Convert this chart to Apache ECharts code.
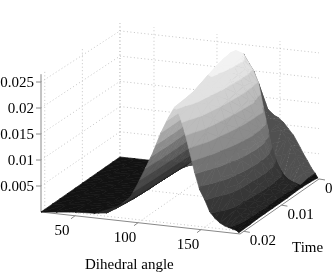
<!DOCTYPE html>
<html><head><meta charset="utf-8">
<style>html,body{margin:0;padding:0;background:#fff}#c{width:336px;height:273px}</style>
<script src="https://cdn.jsdelivr.net/npm/echarts@6/dist/echarts.min.js"></script>
</head><body><div id="c"></div>
<script>
const angles=[23,35,50,65,75,82,88,94,100,106,112,118,124,129,133,137,141,145,149,153,157,161,165,169,172,175,178,180];
const times=[0,0.002,0.004,0.006,0.008,0.010,0.012,0.014,0.016,0.018,0.021];
const z_t000=[0,0,0,.0001,.0002,.0003,.0005,.0009,.0014,.0020,.0028,.0038,.0052,.0065,.0078,.0107,.0114,.0117,.0112,.0104,.0092,.0080,.0063,.0045,.0033,.0020,.0010,.0002];
const z_t002=[0,.0001,.0002,.0003,.0005,.0009,.0016,.0027,.0045,.0065,.0090,.0120,.0160,.0185,.0205,.0180,.0150,.0133,.0120,.0110,.0100,.0086,.0072,.0052,.0036,.0022,.0010,.0004];
const z_t004=[0,.0002,.0004,.0005,.0007,.0013,.0023,.0036,.0060,.0090,.0125,.0170,.0215,.0240,.0254,.0238,.0223,.0199,.0150,.0105,.0054,.0035,.0023,.0015,.0012,.0010,.0007,.0005];
const z_t006=[0,.0002,.0005,.0005,.0007,.0014,.0024,.0038,.0064,.0098,.0140,.0190,.0232,.0265,.0270,.0258,.0237,.0210,.0175,.0165,.0122,.0078,.0050,.0035,.0026,.0020,.0011,.0005];
const z_t008=[0,.0002,.0005,.0005,.0008,.0014,.0025,.0039,.0066,.0101,.0143,.0192,.0230,.0262,.0265,.0252,.0235,.0213,.0187,.0160,.0135,.0110,.0072,.0040,.0026,.0016,.0009,.0004];
const z_t010=[0,.0002,.0005,.0005,.0008,.0015,.0026,.0040,.0067,.0102,.0142,.0190,.0226,.0257,.0260,.0247,.0232,.0210,.0183,.0158,.0137,.0117,.0082,.0048,.0030,.0018,.0010,.0004];
const z_t012=[0,.0002,.0005,.0006,.0008,.0015,.0027,.0041,.0068,.0102,.0140,.0186,.0222,.0250,.0252,.0242,.0228,.0206,.0178,.0153,.0132,.0112,.0078,.0045,.0028,.0017,.0009,.0004];
const z_t014=[0,.0002,.0005,.0006,.0008,.0016,.0028,.0042,.0069,.0102,.0138,.0182,.0218,.0243,.0244,.0236,.0222,.0200,.0168,.0142,.0122,.0102,.0070,.0040,.0025,.0016,.0008,.0004];
const z_t016=[0,.0003,.0006,.0006,.0009,.0017,.0029,.0043,.0070,.0102,.0136,.0178,.0213,.0236,.0238,.0231,.0215,.0188,.0155,.0128,.0107,.0086,.0066,.0034,.0022,.0014,.0008,.0004];
const z_t018=[0,.0003,.0006,.0007,.0010,.0019,.0031,.0045,.0072,.0103,.0137,.0177,.0210,.0233,.0235,.0226,.0205,.0172,.0135,.0110,.0088,.0068,.0050,.0030,.0020,.0013,.0008,.0003];
const z_t021=[0,.0003,.0007,.0009,.0012,.0022,.0035,.0048,.0076,.0107,.0139,.0177,.0208,.0230,.0215,.0185,.0147,.0108,.0076,.0058,.0036,.0025,.0017,.0012,.0010,.0008,.0006,.0002];
const zRows=[z_t000,z_t002,z_t004,z_t006,z_t008,z_t010,z_t012,z_t014,z_t016,z_t018,z_t021];
const bandLevels=[.0010,.0034,.0058,.0082,.0106,.0130,.0154,.0178,.0202,.0226,.0250];
const bandGrays=[18,38,55,72,92,115,140,165,188,208,226,242];
const angleTicks=[50,100,150];
const timeTicks=[0,0.01,0.02];
const zTicks=[0.005,0.01,0.015,0.02,0.025];
const zTickLabels=['0.005','0.01','0.015','0.02','0.025'];
const timeTickLabels=['0','0.01','0.02'];
const aMin=23,aMax=181,tMax=0.021,zTop=0.0265;
const backFaceGray=80,streakGray=112;

function project(a,t,z){
  const dt=tMax-t,da=a-aMin;
  const hs=5200*(1-0.03*dt/tMax);
  return [41+1.26*da+3760*dt, 212+0.139*da-2619*dt-hs*z];
}
function grayOf(v){return 'rgb('+v+','+v+','+v+')';}
function clip(poly,level,keepAbove){
  const out=[];
  for(let i=0;i<poly.length;i++){
    const p=poly[i],q=poly[(i+1)%poly.length];
    const pi=keepAbove?p[2]>=level:p[2]<=level;
    const qi=keepAbove?q[2]>=level:q[2]<=level;
    if(pi)out.push(p);
    if(pi!==qi){
      const r=(level-p[2])/(q[2]-p[2]);
      out.push([p[0]+r*(q[0]-p[0]),p[1]+r*(q[1]-p[1]),level]);
    }
  }
  return out;
}
const cells=[];
for(let r=0;r<times.length-1;r++)for(let c=0;c<angles.length-1;c++)cells.push([r,c]);

function renderCell(params,api){
  const [r,c]=cells[params.dataIndex];
  const v=(rr,cc)=>[angles[cc],times[rr],zRows[rr][cc]];
  const A=v(r,c),B=v(r,c+1),C=v(r+1,c+1),D=v(r+1,c);
  const children=[];
  const tris=[[A,B,D],[B,C,D]];
  const maxZ=Math.max(A[2],B[2],C[2],D[2]);
  const dark=times[r]<0.004&&maxZ>0.0015;
  for(const tri of tris){
    for(let b=0;b<bandGrays.length;b++){
      let poly=tri;
      if(b>0)poly=clip(poly,bandLevels[b-1],true);
      if(poly.length&&b<bandLevels.length)poly=clip(poly,bandLevels[b],false);
      if(poly.length<3)continue;
      const pts=poly.map(p=>api.coord(project(p[0],p[1],p[2])));
      const col=grayOf(dark?backFaceGray:bandGrays[b]);
      children.push({type:'polygon',shape:{points:pts},style:{fill:col,stroke:col,lineWidth:0.7}});
    }
  }
  if(dark&&c%2===0){
    const a=api.coord(project(...A)),d=api.coord(project(...D));
    children.push({type:'line',shape:{x1:a[0],y1:a[1],x2:d[0],y2:d[1]},style:{stroke:grayOf(streakGray),lineWidth:1,lineDash:[1,3]}});
  }
  return {type:'group',children};
}

const guides=[];
zTicks.forEach(z=>{
  guides.push([[aMin,tMax,z],[aMin,0,z]]);
  guides.push([[aMin,0,z],[aMax,0,z]]);
});
timeTicks.forEach(t=>{
  guides.push([[aMin,t,0],[aMax,t,0]]);
  guides.push([[aMin,t,0],[aMin,t,zTop]]);
});
angleTicks.forEach(a=>{
  guides.push([[a,tMax,0],[a,0,0]]);
  guides.push([[a,0,0],[a,0,zTop]]);
});
guides.push([[aMin,0,0],[aMin,0,zTop]]);

const solids=[
  [[aMin,tMax,0],[aMax,tMax,0]],
  [[aMax,tMax,0],[aMax,0,0]],
  [[aMin,tMax,0],[aMin,tMax,zTop]]
];
function renderLine(list,style){
  return function(params,api){
    const s=list[params.dataIndex];
    const a=api.coord(project(...s[0])),b=api.coord(project(...s[1]));
    return {type:'line',shape:{x1:a[0],y1:a[1],x2:b[0],y2:b[1]},style};
  };
}
const tickDefs=[];
const font='15px "Liberation Serif", "Times New Roman", serif';
zTicks.forEach((z,i)=>tickDefs.push({p:[aMin,tMax,z],d:[-5,0],t:zTickLabels[i],o:[-7,1],al:'right'}));
angleTicks.forEach(a=>tickDefs.push({p:[a,tMax,0],d:[-4,3],t:String(a),o:[-13,15],al:'center'}));
timeTicks.forEach((t,i)=>tickDefs.push({p:[aMax,t,0],d:[6,1],t:timeTickLabels[i],o:[6,10],al:'left'}));

function renderTick(params,api){
  const d=tickDefs[params.dataIndex];
  const a=api.coord(project(...d.p));
  return {type:'group',children:[
    {type:'line',shape:{x1:a[0],y1:a[1],x2:a[0]+d.d[0],y2:a[1]+d.d[1]},style:{stroke:'#888',lineWidth:1}},
    {type:'text',style:{x:a[0]+d.o[0],y:a[1]+d.o[1],text:d.t,font,fill:'#000',textAlign:d.al,textVerticalAlign:'middle'}}
  ]};
}
const chart=echarts.init(document.getElementById('c'),null,{renderer:'canvas'});
chart.setOption({
  animation:false,
  grid:{left:0,top:0,right:0,bottom:0},
  xAxis:{type:'value',min:0,max:336,show:false},
  yAxis:{type:'value',min:0,max:273,inverse:true,show:false},
  graphic:[
    {type:'text',left:85,top:258,style:{text:'Dihedral angle',font,fill:'#000'}},
    {type:'text',left:292,top:241,style:{text:'Time',font,fill:'#000'}}
  ],
  series:[
    {type:'custom',coordinateSystem:'cartesian2d',silent:true,clip:false,data:guides.map((_,i)=>i),encode:{x:0,y:0},
      renderItem:renderLine(guides,{stroke:'#c4c4c4',lineWidth:1,lineDash:[1,2.5]})},
    {type:'custom',coordinateSystem:'cartesian2d',silent:true,clip:false,data:solids.map((_,i)=>i),encode:{x:0,y:0},
      renderItem:renderLine(solids,{stroke:'#888',lineWidth:1})},
    {type:'custom',coordinateSystem:'cartesian2d',silent:true,clip:false,progressive:0,data:cells.map((_,i)=>i),encode:{x:0,y:0},
      renderItem:renderCell},
    {type:'custom',coordinateSystem:'cartesian2d',silent:true,clip:false,data:tickDefs.map((_,i)=>i),encode:{x:0,y:0},
      renderItem:renderTick}
  ]
});
</script></body></html>
